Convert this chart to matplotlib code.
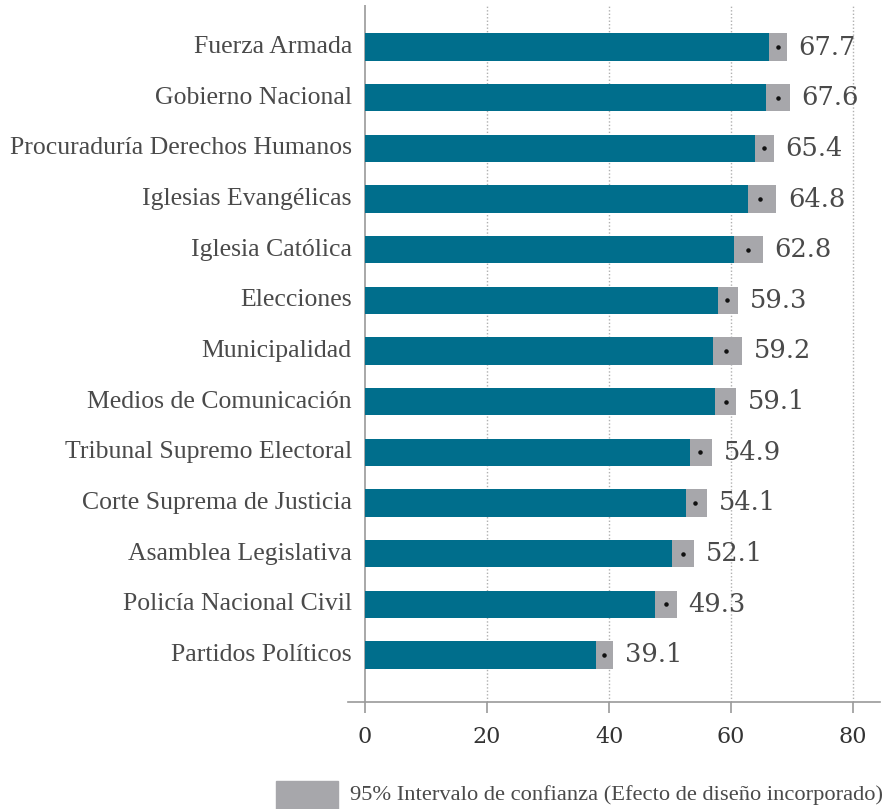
import matplotlib
matplotlib.use("Agg")
import matplotlib.pyplot as plt
from matplotlib.patches import Rectangle

categories = ["Fuerza Armada", "Gobierno Nacional", "Procuraduría Derechos Humanos",
              "Iglesias Evangélicas", "Iglesia Católica", "Elecciones", "Municipalidad",
              "Medios de Comunicación", "Tribunal Supremo Electoral",
              "Corte Suprema de Justicia", "Asamblea Legislativa",
              "Policía Nacional Civil", "Partidos Políticos"]
means = [67.7, 67.6, 65.4, 64.8, 62.8, 59.3, 59.2, 59.1, 54.9, 54.1, 52.1, 49.3, 39.1]
ci_low = [66.2, 65.7, 63.9, 62.8, 60.5, 57.9, 57.0, 57.4, 53.3, 52.6, 50.3, 47.5, 37.8]
ci_high = [69.1, 69.6, 67.0, 67.4, 65.2, 61.1, 61.8, 60.8, 56.9, 56.1, 53.9, 51.1, 40.7]
xticks = [0, 20, 40, 60, 80]
legend_label = "95% Intervalo de confianza (Efecto de diseño incorporado)"

TEAL = "#006e8c"
GREY = "#a7a7ab"
TXT = "#4a4a4a"
FONT = "Liberation Serif"
NUMFONT = "DejaVu Serif"

fig = plt.figure(figsize=(8.87, 8.09), dpi=100)
ax = fig.add_axes([348/887, 1-702/809, (880-348)/887, (702-5)/809])

ys = list(range(len(categories)))
h = 0.54
ax.barh(ys, ci_low, height=h, color=TEAL, zorder=3)
ax.barh(ys, [hi - lo for lo, hi in zip(ci_low, ci_high)], left=ci_low, height=h,
        color=GREY, zorder=3)
ax.scatter(means, ys, s=5, color="#111111", zorder=4)

for y, m, hi, lab in zip(ys, means, ci_high, categories):
    ax.annotate(f"{m:.1f}", xy=(hi, y), xytext=(8.5, 0), textcoords="offset points",
                ha="left", va="center", fontsize=18.5, color=TXT, family=NUMFONT)
    ax.annotate(lab, xy=(0, y), xytext=(-9.5, 0), textcoords="offset points",
                ha="right", va="center", fontsize=18.5, color=TXT, family=FONT,
                annotation_clip=False)

ax.set_xlim(-2.8, 84.4)
ax.set_ylim(len(categories) - 1 + 0.93, -0.83)
ax.set_yticks([])
ax.set_xticks(xticks)
ax.set_xticklabels([str(t) for t in xticks], fontsize=16, color="#333333", family=NUMFONT)
ax.tick_params(axis="x", length=8, width=1.2, color="#9a9a9a", pad=9)
for s in ["top", "right", "left"]:
    ax.spines[s].set_visible(False)
ax.spines["bottom"].set_color("#9a9a9a")
ax.spines["bottom"].set_linewidth(1.2)
ax.axvline(0, color="#9a9a9a", lw=1.2, zorder=2)
for t in xticks[1:]:
    ax.axvline(t, color="#b0b0b0", lw=1.0, ls=(0, (1, 1.5)), zorder=1)

fig.patches.append(Rectangle((276/887, 1-809/809), 62/887, 28/809,
                             transform=fig.transFigure, color=GREY))
fig.text(350/887, 1-795/809, legend_label, ha="left", va="center", fontsize=16.2,
         color=TXT, family=FONT)

fig.savefig("out.png", dpi=100)
